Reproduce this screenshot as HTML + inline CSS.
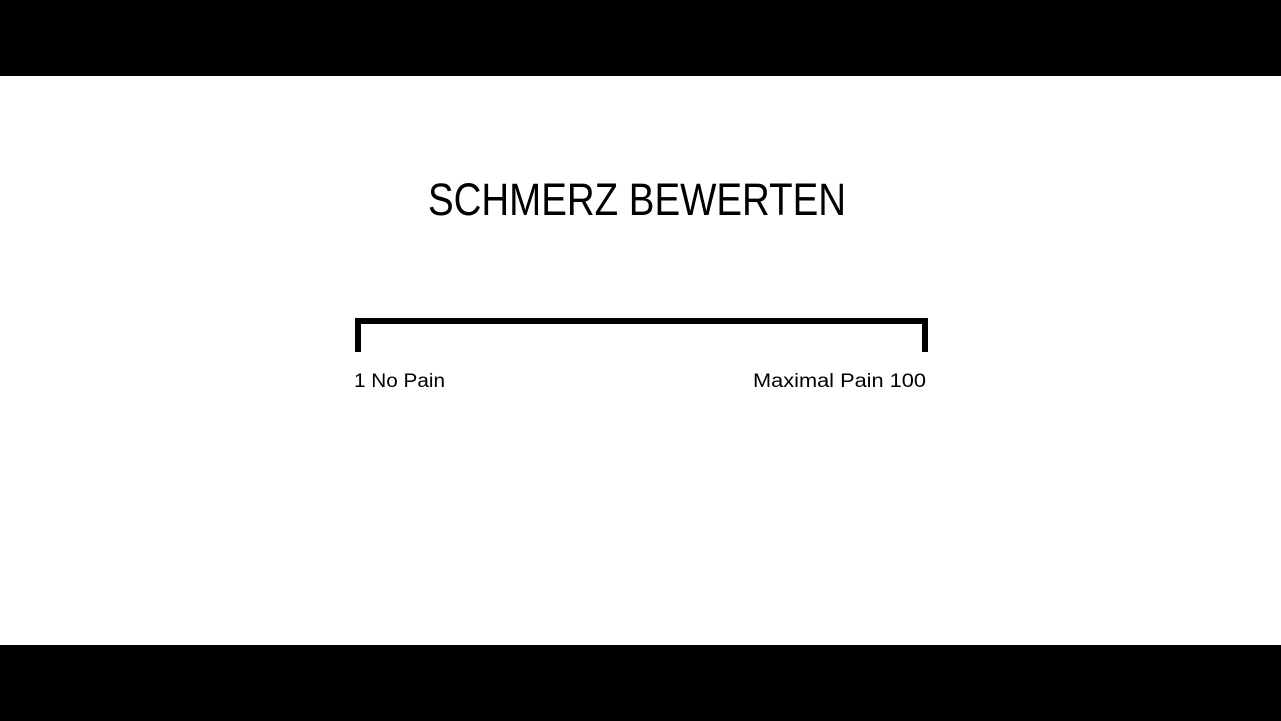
<!DOCTYPE html>
<html><head><meta charset="utf-8"><style>
html,body{margin:0;padding:0;background:#fff;width:1281px;height:721px;overflow:hidden}
</style></head><body>
<svg width="1281" height="721" xmlns="http://www.w3.org/2000/svg">
<rect x="0" y="0" width="1281" height="76" fill="#000"/>
<rect x="0" y="645" width="1281" height="76" fill="#000"/>
<text x="428" y="215" font-family="Liberation Sans, sans-serif" font-size="45" textLength="418" lengthAdjust="spacingAndGlyphs" fill="#000">SCHMERZ BEWERTEN</text>
<g fill="#000">
<rect x="355" y="318" width="573" height="6"/>
<rect x="355" y="318" width="6" height="34"/>
<rect x="922" y="318" width="6" height="34"/>
</g>
<text x="354" y="387" font-family="Liberation Sans, sans-serif" font-size="19" textLength="91" lengthAdjust="spacingAndGlyphs" fill="#000">1 No Pain</text>
<text x="753" y="387" font-family="Liberation Sans, sans-serif" font-size="19" textLength="173" lengthAdjust="spacingAndGlyphs" fill="#000">Maximal Pain 100</text>
</svg>
</body></html>
